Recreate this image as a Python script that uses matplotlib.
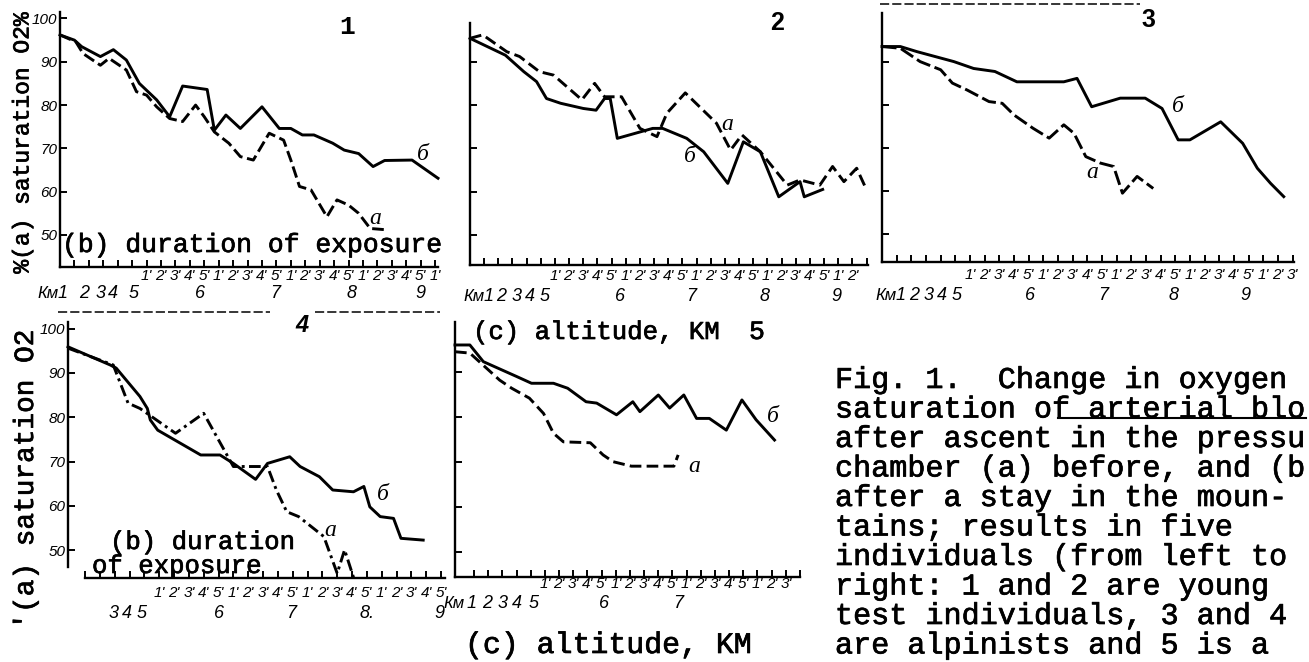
import matplotlib.pyplot as plt
import matplotlib.patheffects as pe
from matplotlib.lines import Line2D

W, H = 1309, 662
MONO = 'Liberation Mono'
SANS = 'Liberation Sans'
SERIF = 'Liberation Serif'

# x positions are tick indices: altitude 1-5 km, then 1'-5' minutes at each km
# panel 1
p1_b_x = [0, 1.0, 1.5, 2.8, 3.7, 4.6, 5.5, 6.7, 7.6, 8.5, 10.2, 10.7, 11.5, 12.5, 14.0, 15.2,
          16.0, 16.8, 17.6, 18.9, 19.7, 20.7, 21.7, 22.5, 24.4, 26.2]
p1_b_y = [96.2, 95.0, 93.5, 91.2, 92.8, 90.4, 85.0, 81.2, 77.3, 84.4, 83.6, 74.2, 77.7, 74.6, 79.6, 74.6,
          74.6, 73.1, 73.1, 71.2, 69.6, 68.8, 65.8, 67.2, 67.3, 63.1]
p1_a_x = [0, 1.1, 1.6, 2.8, 3.4, 4.6, 5.3, 6.0, 6.7, 7.6, 8.5, 9.4, 10.0, 10.7, 11.7, 12.5, 13.4, 14.5,
          15.5, 16.0, 16.6, 17.4, 18.5, 19.2, 20.0, 20.7, 21.5, 22.6]
p1_a_y = [96.2, 94.6, 91.9, 89.2, 90.8, 88.1, 83.1, 82.3, 79.6, 76.9, 76.2, 80.0, 77.3, 73.8, 71.2, 68.1,
          67.3, 73.5, 71.9, 67.3, 61.2, 60.4, 54.2, 58.1, 56.9, 55.0, 51.5, 51.2]

# panel 2
p2_b_x = [0, 2.5, 3.8, 4.7, 5.4, 6.4, 8.0, 8.9, 9.5, 9.9, 10.4, 12.9, 13.6, 15.3, 16.5, 18.2, 19.3,
          20.5, 21.8, 23.3, 23.6, 24.9]
p2_b_y = [95.4, 91.5, 87.7, 85.4, 81.5, 80.4, 79.2, 78.8, 81.5, 81.5, 72.3, 74.6, 74.6, 72.3, 69.2, 61.9,
          71.5, 69.2, 58.8, 62.3, 58.8, 60.5]
p2_a_x = [0, 0.9, 2.6, 3.5, 4.9, 5.9, 7.9, 8.8, 9.5, 10.7, 12.0, 13.2, 13.9, 15.2, 17.4, 18.4, 19.2,
          20.5, 22.4, 23.3, 24.7, 25.6, 26.4, 27.3, 28.0]
p2_a_y = [95.4, 96.2, 92.3, 91.2, 87.7, 86.9, 81.2, 85.0, 81.9, 81.9, 74.6, 72.7, 78.1, 82.8, 75.8, 69.6,
          73.1, 69.2, 61.5, 62.7, 61.5, 65.8, 62.3, 65.4, 60.4]

# panel 3
p3_b_x = [0, 1.25, 2.4, 4.9, 6.25, 7.7, 9.2, 12.4, 13.3, 14.3, 16.25, 17.95, 19.1, 20.2, 21.0, 23.1,
          24.6, 25.6, 26.5, 27.4]
p3_b_y = [93.5, 93.5, 92.3, 90.0, 88.4, 87.7, 85.3, 85.3, 86.1, 79.5, 81.5, 81.5, 79.1, 71.8, 71.8, 76.0,
          71.0, 65.2, 61.7, 58.6]
p3_a_x = [0, 1.25, 2.6, 4.0, 4.8, 5.8, 7.3, 8.2, 9.0, 10.3, 11.4, 12.4, 13.1, 13.9, 14.9, 15.8, 16.4,
          17.4, 18.5]
p3_a_y = [93.5, 93.1, 90.0, 88.1, 85.0, 83.4, 80.7, 80.3, 77.6, 74.5, 72.2, 75.3, 73.3, 67.9, 66.4, 65.6,
          59.4, 63.3, 60.5]

# panel 4
p4_b_x = [-1.15, 1.7, 2.1, 3.7, 4.2, 4.4, 4.9, 7.8, 9.1, 10.0, 11.5, 12.3, 13.8, 14.5, 15.8, 16.7,
          18.1, 18.8, 19.2, 19.9, 20.8, 21.3, 22.8]
p4_b_y = [95.9, 91.8, 91.1, 84.7, 82.0, 79.4, 77.1, 71.5, 71.5, 69.6, 66.0, 69.6, 71.1, 68.9, 66.6, 63.6,
          63.2, 64.4, 59.8, 57.6, 57.2, 52.7, 52.3]
p4_a_x = [-1.15, 1.9, 2.9, 3.7, 6.1, 8.0, 10.0, 12.3, 12.9, 13.6, 14.4, 16.1, 17.0, 17.5, 18.1]
p4_a_y = [95.6, 91.8, 83.2, 82.0, 76.4, 80.9, 68.9, 68.9, 63.6, 58.7, 57.6, 53.1, 44.8, 50.1, 43.9]

# panel 5
p5_b_x = [-0.35, 0.7, 1.65, 4.0, 5.05, 6.6, 7.6, 8.9, 9.65, 11.05, 12.2, 12.7, 14.0, 14.8, 15.8, 16.7,
          17.6, 18.8, 19.9, 20.9, 22.2]
p5_b_y = [95.9, 95.9, 92.2, 88.9, 87.4, 87.4, 86.3, 83.3, 83.0, 80.4, 83.3, 81.1, 84.8, 81.9, 84.8, 79.6,
          79.6, 77.0, 83.7, 79.3, 74.8]
p5_a_x = [-0.35, 0.7, 2.8, 3.65, 4.9, 5.9, 6.6, 7.3, 9.2, 10.1, 10.8, 12.1, 15.1, 15.4]
p5_a_y = [94.4, 94.1, 88.1, 86.3, 84.1, 80.7, 76.3, 74.4, 74.2, 71.5, 70.0, 69.0, 69.0, 71.5]

minutes = ["1'", "2'", "3'", "4'", "5'"]
caption = ["Fig. 1.  Change in oxygen",
           "saturation of arterial blo",
           "after ascent in the pressu",
           "chamber (a) before, and (b",
           "after a stay in the moun-",
           "tains; results in five",
           "individuals (from left to",
           "right: 1 and 2 are young",
           "test individuals, 3 and 4",
           "are alpinists and 5 is a"]

fig = plt.figure(figsize=(W / 100, H / 100), dpi=100)
fig.patch.set_facecolor('white')

# typewriter ink is a little heavier than the plain font
ink = [pe.withStroke(linewidth=0.5, foreground='black')]


def ftext(x, y, s, **kw):
    return fig.text(x / W, 1 - y / H, s, **kw)


def panel(box, xlim, ylim, yticks, ylabels=None, lbounds=None, bbounds=None):
    l, t, r, b = box
    ax = fig.add_axes([l / W, 1 - b / H, (r - l) / W, (b - t) / H])
    ax.set_xlim(*xlim)
    ax.set_ylim(*ylim)
    ax.patch.set_alpha(0)
    for s in ('top', 'right'):
        ax.spines[s].set_visible(False)
    for s in ('left', 'bottom'):
        ax.spines[s].set_linewidth(1.7)
    if lbounds:
        ax.spines['left'].set_bounds(*lbounds)
    if bbounds:
        ax.spines['bottom'].set_bounds(*bbounds)
    ax.set_yticks(yticks)
    if ylabels:
        ax.set_yticklabels(ylabels, fontsize=11, style='italic', family=SANS)
        ax.tick_params(axis='y', pad=2)
    else:
        ax.tick_params(axis='y', labelleft=False)
    ax.tick_params(direction='in', length=5, width=1.4)
    ax.tick_params(axis='x', labelbottom=False)
    return ax


def xrows(ax, ticks, mpos, kmpos, kmlbl, off1, off2, kmword=None):
    ax.set_xticks(ticks)
    for i, x in enumerate(mpos):
        ax.annotate(minutes[i % 5], xy=(x, 0), xycoords=('data', 'axes fraction'),
                    xytext=(0, -off1 * 0.72), textcoords='offset points',
                    ha='center', va='center', fontsize=11, style='italic', family=SANS)
    for x, s in zip(kmpos, kmlbl):
        ax.annotate(s, xy=(x, 0), xycoords=('data', 'axes fraction'),
                    xytext=(0, -off2 * 0.72), textcoords='offset points',
                    ha='center', va='center', fontsize=13, style='italic', family=SANS)
    if kmword:
        ax.annotate('Км', xy=(kmword, 0), xycoords=('data', 'axes fraction'),
                    xytext=(0, -off2 * 0.72), textcoords='offset points',
                    ha='right', va='center', fontsize=12, style='italic', family=SANS)


def curves(ax, bx, by, ax_, ay, dash):
    ax.plot(bx, by, color='black', lw=2.1, solid_joinstyle='round', clip_on=False)
    ax.plot(ax_, ay, color='black', lw=2.1, linestyle=dash, clip_on=False)


ylab6 = ['50', '60', '70', '80', '90', '100']

ax1 = panel((60, 12, 438, 267), (0, 26.2), (42.6, 101.5), [50, 60, 70, 80, 90, 100], ylab6)
curves(ax1, p1_b_x, p1_b_y, p1_a_x, p1_a_y, (0, (4, 1.6)))
xrows(ax1, range(1, 27), range(6, 27), [0.2, 1.7, 2.8, 3.7, 5.1, 9.7, 14.9, 20.2, 25.0],
      list('123456789'), 9, 27, kmword=-0.1)

ax2 = panel((470, 23, 868, 265), (0, 28.1), (43.05, 98.94), [50, 60, 70, 80, 90])
curves(ax2, p2_b_x, p2_b_y, p2_a_x, p2_a_y, (0, (4, 1.8)))
xrows(ax2, range(1, 29), range(6, 28), [1.3, 2.2, 3.3, 4.2, 5.3, 10.6, 15.6, 20.8, 25.9],
      list('123456789'), 11, 31, kmword=1.05)

ax3 = panel((882, 13, 1294, 262), (0, 28.1), (43.4, 101.3), [50, 60, 70, 80, 90])
curves(ax3, p3_b_x, p3_b_y, p3_a_x, p3_a_y, (0, (5, 1.6)))
xrows(ax3, range(1, 29), range(6, 29), [1.25, 2.2, 3.2, 4.1, 5.1, 10.1, 15.1, 19.9, 24.8],
      list('123456789'), 13, 34, kmword=1.0)

ax4 = panel((68, 322, 445, 578), (-1.15, 24.27), (43.75, 101.5), [50, 60, 70, 80, 90, 100], ylab6,
            lbounds=(46.2, 101.5), bbounds=(0, 24.27))
curves(ax4, p4_b_x, p4_b_y, p4_a_x, p4_a_y, (0, (4, 1.5, 1, 1.5)))
xrows(ax4, range(0, 25), range(5, 25), [1.9, 2.8, 3.8, 9.0, 13.9, 19.0, 23.9],
      ['3', '4', '5', '6', '7', '8.', '9'], 15, 36)

ax5 = panel((455, 322, 800, 577), (-0.35, 24.0), (44.4, 101.0), [50, 60, 70, 80, 90])
curves(ax5, p5_b_x, p5_b_y, p5_a_x, p5_a_y, (0, (4, 1.8)))
xrows(ax5, range(1, 25), range(6, 24), [0.8, 1.9, 3.0, 4.0, 5.2, 10.2, 15.4],
      list('1234567'), 7, 27, kmword=0.35)

# panel numbers
ftext(347, 27, '1', fontsize=19, family=MONO, weight='bold', ha='center', va='center')
ftext(777, 23, '2', fontsize=18, family=SANS, weight='bold', ha='center', va='center')
ftext(1148, 20, '3', fontsize=18, family=SANS, weight='bold', ha='center', va='center')
ftext(302, 325, '4', fontsize=17, family=SANS, weight='bold', style='italic', ha='center', va='center')
ftext(757, 332, '5', fontsize=19, family=MONO, ha='center', va='center', path_effects=ink)

# curve labels
lab = dict(fontsize=17, family=SERIF, style='italic', ha='center', va='center')
ftext(423, 155, 'б', **lab)
ftext(375, 218, 'a', **lab)
ftext(727, 125, 'a', **lab)
ftext(690, 157, 'б', **lab)
ftext(1178, 107, 'б', **lab)
ftext(1092, 172, 'a', **lab)
ftext(330, 530, 'a', **lab)
ftext(383, 495, 'б', **lab)
ftext(694, 466, 'a', **lab)
ftext(773, 417, 'б', **lab)

# axis captions
mono = dict(family=MONO, path_effects=ink)
ftext(22, 143, '%(a) saturation O2%', rotation=90, fontsize=16.5, ha='center', va='center', **mono)
ftext(26, 480, "'(a) saturation O2", rotation=90, fontsize=20, ha='center', va='center', **mono)
ftext(62, 245, '(b) duration of exposure', fontsize=19, ha='left', va='center', **mono)
ftext(110, 542, '(b) duration', fontsize=18.5, ha='left', va='center', **mono)
ftext(92, 566, 'of exposure', fontsize=18.5, ha='left', va='center', **mono)
ftext(473, 332, '(c) altitude, KM', fontsize=18.5, ha='left', va='center', **mono)
ftext(465, 645, '(c) altitude, KM', fontsize=21.5, ha='left', va='center', **mono)

# figure caption
for i, line in enumerate(caption):
    ftext(835, 380 + 29.5 * i, line, fontsize=21.7, ha='left', va='center', **mono)

# cut lines between the rows and above panel 3
for x0, x1, y in [(58, 270, 312), (315, 440, 312), (880, 1140, 4)]:
    fig.add_artist(Line2D([x0 / W, x1 / W], [1 - y / H, 1 - y / H], color='black', lw=1.1,
                          linestyle=(0, (6, 2))))
fig.add_artist(Line2D([1058 / W, 1306 / W], [1 - 418 / H, 1 - 418 / H], color='black', lw=1.5))

fig.savefig('out.png', dpi=100)
